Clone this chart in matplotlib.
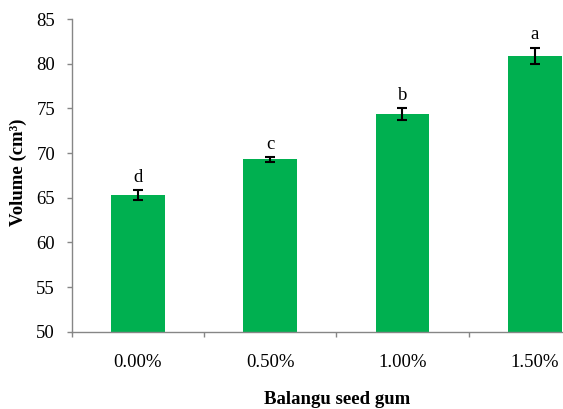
import numpy as np
import matplotlib.pyplot as plt

plt.rcParams['font.family'] = ['Liberation Serif', 'DejaVu Serif']

categories = ["0.00%", "0.50%", "1.00%", "1.50%"]
volume = [65.3, 69.3, 74.4, 80.9]
volume_err = [0.55, 0.25, 0.65, 0.9]
letters = ["d", "c", "b", "a"]

GREEN = "#00B050"
AXIS = "#868686"

fig = plt.figure(figsize=(5.63, 4.09), dpi=100)
ax = fig.add_axes([71.7/563, 1-331.7/409, 1-71.7/563, (331.7-19)/409])

x = np.arange(len(categories))
ax.bar(x, volume, width=0.405, color=GREEN, zorder=2)
ax.errorbar(x, volume, yerr=volume_err, fmt='none', ecolor='black',
            elinewidth=1.5, capsize=3.3, capthick=1.5, zorder=3)
for xi, v, e, lab in zip(x, volume, volume_err, letters):
    ax.annotate(lab, (xi, v+e), textcoords='offset points', xytext=(0, 3),
                ha='center', va='bottom', fontsize=13.5)

ax.set_ylim(50, 85)
ax.set_yticks(np.arange(50, 86, 5))
ax.set_xlim(-0.5, -0.5 + (563-71.7)/132.3)
ax.set_xticks(x)
ax.set_xticklabels(categories)
ax.set_xticks(np.arange(-0.5, 3.0, 1.0), minor=True)
ax.tick_params(axis='x', which='major', length=0, pad=16, labelsize=13.5)
ax.tick_params(axis='x', which='minor', length=3.6, color=AXIS, width=1)
ax.tick_params(axis='y', length=3.5, color=AXIS, width=1, labelsize=13.5, pad=8.5)

for s in ['top', 'right']:
    ax.spines[s].set_visible(False)
for s in ['left', 'bottom']:
    ax.spines[s].set_color(AXIS)
    ax.spines[s].set_linewidth(1)

ax.set_ylabel("Volume (cm³)", fontsize=13.5, fontweight='bold')
ax.yaxis.set_label_coords(-(71.7-27)/(563-71.7), (331.7-172)/(331.7-19))
ax.set_xlabel("Balangu seed gum", fontsize=13.5, fontweight='bold')
ax.xaxis.set_label_coords((337-71.7)/(563-71.7), -(391-331.7)/(331.7-19))

fig.savefig("out.png", dpi=100)
